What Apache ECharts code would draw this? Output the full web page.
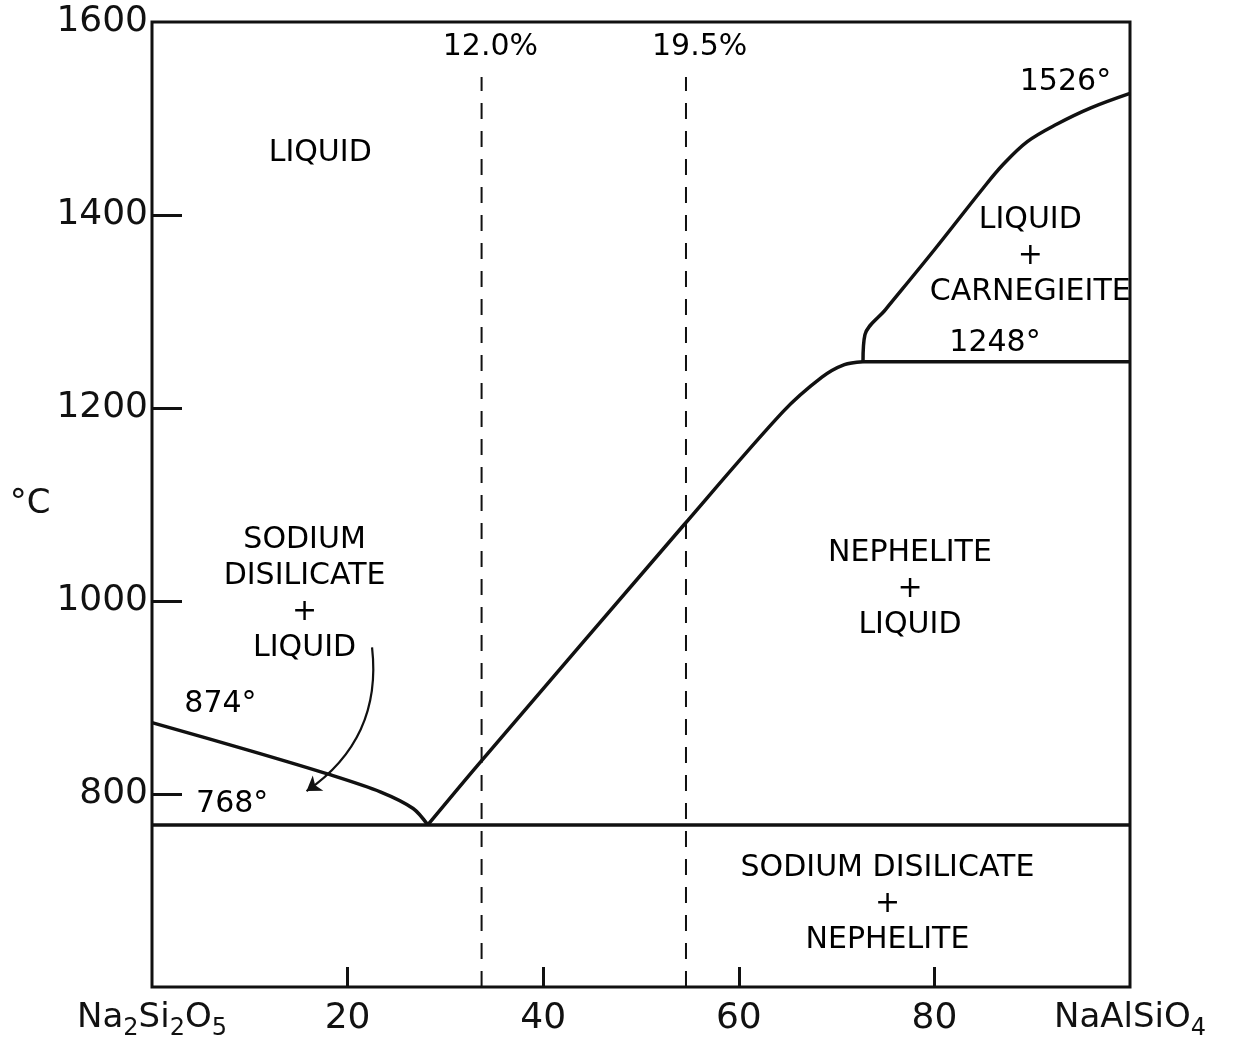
<!DOCTYPE html>
<html>
<head>
<meta charset="utf-8">
<title>Na2Si2O5 - NaAlSiO4</title>
<script src="https://cdn.jsdelivr.net/npm/echarts@6/dist/echarts.min.js"></script>
<style>
  html, body { margin: 0; padding: 0; background: #fff; }
  #chart { width: 1234px; height: 1045px; }
</style>
</head>
<body>
<div id="chart"></div>
<script>
// composition (x) and temperature (°C)
const xMin = 0, xMax = 100, xStep = 20;
const tMin = 600, tMax = 1600, tStep = 200;
const xTicks = [20, 40, 60, 80];
const tTicks = [800, 1000, 1200, 1400];

// sodium disilicate liquidus, 874° down to the eutectic
const disilicateX = [0, 10, 18.2, 23.4, 26.7, 28.2];
const disilicateT = [874, 845, 820, 802, 785, 768];

// nephelite liquidus, eutectic up to 1248°
const nephX = [28.2, 33.4, 54.4, 64.5, 68.5, 70.8, 72.7];
const nephT = [768, 831, 1079, 1196, 1232, 1245, 1248];

// carnegieite liquidus, 1248° up to 1526°
const carnX = [72.7, 72.9, 75.0, 80.0, 85.0, 87.0, 89.5, 92.5, 96.0, 100];
const carnT = [1248, 1276, 1302, 1364, 1428, 1452, 1476, 1494, 1511, 1526];

const eutecticT = 768;
const inversionT = 1248;
const inversionX = [72.7, 100];

// the two dashed composition lines
const dashX = [33.7, 54.6];
const dashTop = 1543;

// arrow from the label down to the 768° line
const arrowFrom = [22.5, 952];
const arrowTo = [15.8, 803];

const labels = [
  [17.2, 1464, 'LIQUID'],
  [15.6, 1007, 'SODIUM\nDISILICATE\n+\nLIQUID'],
  [7.0, 893, '874°'],
  [8.2, 789, '768°'],
  [34.6, 1574, '12.0%'],
  [56.0, 1574, '19.5%'],
  [93.4, 1538, '1526°'],
  [89.8, 1357, 'LIQUID\n+\nCARNEGIEITE'],
  [86.2, 1267, '1248°'],
  [77.5, 1012, 'NEPHELITE\n+\nLIQUID'],
  [75.2, 686, 'SODIUM DISILICATE\n+\nNEPHELITE']
];

function pairs(xs, ys) {
  return xs.map((x, i) => [x, ys[i]]);
}

const font = 'DejaVu Sans';
const ink = '#111';

const chart = echarts.init(document.getElementById('chart'));

const series = [
  {
    type: 'line',
    data: pairs(disilicateX, disilicateT),
    smooth: 0.3,
    symbol: 'none',
    lineStyle: { color: ink, width: 3.5 }
  },
  {
    type: 'line',
    data: pairs(nephX, nephT),
    smooth: 0.3,
    symbol: 'none',
    lineStyle: { color: ink, width: 3.5 }
  },
  {
    type: 'line',
    data: pairs(carnX, carnT),
    smooth: 0.35,
    symbol: 'none',
    lineStyle: { color: ink, width: 3.5 }
  },
  {
    type: 'line',
    data: [[xMin, eutecticT], [xMax, eutecticT]],
    symbol: 'none',
    lineStyle: { color: ink, width: 3.5 }
  },
  {
    type: 'line',
    data: pairs(inversionX, [inversionT, inversionT]),
    symbol: 'none',
    lineStyle: { color: ink, width: 3.5 }
  }
];

dashX.forEach(x => {
  series.push({
    type: 'line',
    data: [[x, tMin], [x, dashTop]],
    symbol: 'none',
    lineStyle: { color: ink, width: 2, type: [16, 12] }
  });
});

series.push({
  type: 'lines',
  coordinateSystem: 'cartesian2d',
  symbol: ['none', 'arrow'],
  symbolSize: 14,
  lineStyle: { color: ink, width: 2.2, curveness: 0.3, opacity: 1 },
  data: [{ coords: [arrowFrom, arrowTo] }]
});

series.push({
  type: 'scatter',
  symbolSize: 0,
  z: 10,
  data: labels,
  itemStyle: { opacity: 1 },
  label: {
    show: true,
    position: 'inside',
    formatter: p => p.data[2],
    fontFamily: font,
    fontSize: 30,
    lineHeight: 36,
    color: '#000',
    opacity: 1,
    align: 'center'
  }
});

chart.setOption({
  animation: false,
  backgroundColor: '#fff',
  grid: {
    left: 152,
    right: 104,
    top: 22,
    bottom: 58,
    outerBoundsMode: 'none',
    show: true,
    borderColor: ink,
    borderWidth: 3
  },
  xAxis: {
    type: 'value',
    min: xMin,
    max: xMax,
    interval: xStep,
    splitLine: { show: false },
    axisLine: { show: false },
    axisTick: {
      inside: true,
      length: 20,
      customValues: xTicks,
      lineStyle: { color: ink, width: 3 }
    },
    axisLabel: {
      margin: 14,
      fontFamily: font,
      fontSize: 36,
      color: ink,
      formatter: v => {
        if (v === 0) return '{n|Na}{s|2}{n|Si}{s|2}{n|O}{s|5}';
        if (v === 100) return '{n|NaAlSiO}{s|4}';
        return String(v);
      },
      rich: {
        n: { fontFamily: font, fontSize: 34, color: ink, verticalAlign: 'top' },
        s: { fontFamily: font, fontSize: 24, color: ink, verticalAlign: 'top', padding: [16, 0, 0, 0] }
      }
    }
  },
  yAxis: {
    type: 'value',
    min: tMin,
    max: tMax,
    interval: tStep,
    name: '°C',
    nameLocation: 'middle',
    nameRotate: 0,
    nameGap: 97,
    nameTextStyle: { fontFamily: font, fontSize: 34, color: ink },
    splitLine: { show: false },
    axisLine: { show: false },
    axisTick: {
      inside: true,
      length: 30,
      customValues: tTicks,
      lineStyle: { color: ink, width: 3 }
    },
    axisLabel: {
      margin: 4,
      fontFamily: font,
      fontSize: 36,
      color: ink,
      formatter: v => (v === tMin ? '' : String(v))
    }
  },
  series: series
});
</script>
</body>
</html>
